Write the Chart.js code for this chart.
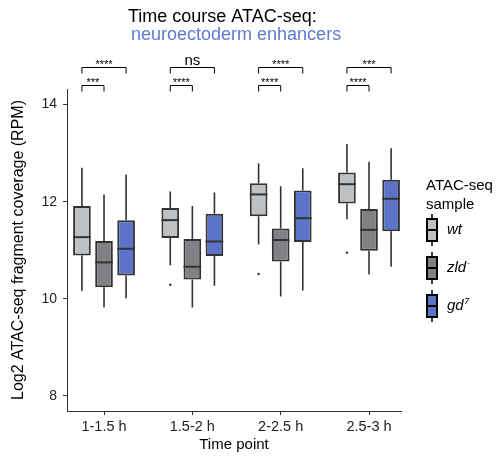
<!DOCTYPE html>
<html>
<head>
<meta charset="utf-8">
<script src="https://cdn.jsdelivr.net/npm/chart.js@4/dist/chart.umd.min.js"></script>
<style>
  html, body { margin: 0; padding: 0; background: #fff; }
  #wrap { width: 497px; height: 456px; position: relative; }
</style>
</head>
<body>
<div id="wrap"><canvas id="grafico"></canvas></div>
<script>
// Boxplot de cobertura ATAC-seq por punto temporal (cajas = barras flotantes)

const timePoints = ['1-1.5 h', '1.5-2 h', '2-2.5 h', '2.5-3 h'];
const yTicks = [8, 10, 12, 14];

// wt
const wtMin = [10.16, 10.69, 11.12, 11.64];
const wtQ1  = [10.89, 11.25, 11.70, 11.96];
const wtMed = [11.27, 11.62, 12.15, 12.36];
const wtQ3  = [11.91, 11.87, 12.38, 12.60];
const wtMax = [12.70, 12.21, 12.79, 13.19];
const wtOut = [null, 10.29, 10.51, 10.95];

// zld-
const zldMin = [9.82, 9.82, 10.05, 10.50];
const zldQ1  = [10.24, 10.40, 10.77, 10.99];
const zldMed = [10.75, 10.66, 11.21, 11.42];
const zldQ3  = [11.19, 11.23, 11.45, 11.85];
const zldMax = [12.15, 11.91, 12.32, 12.82];
const zldOut = [null, null, null, null];

// gd7
const gdMin = [10.01, 10.27, 10.17, 10.66];
const gdQ1  = [10.48, 10.88, 11.17, 11.39];
const gdMed = [11.03, 11.18, 11.66, 12.06];
const gdQ3  = [11.62, 11.75, 12.23, 12.45];
const gdMax = [12.56, 12.19, 12.69, 13.10];
const gdOut = [null, null, null, null];

// significancia: wt vs gd7 (arriba) y wt vs zld- (abajo)
const sigWtGd  = ['****', 'ns', '****', '***'];
const sigWtZld = ['***', '****', '****', '****'];
const bracketTop = 14.78;
const bracketLow = 14.40;

const FONT = "'Liberation Sans', Arial, sans-serif";
const colorWt = '#bec1c4';
const colorZld = '#808184';
const colorGd = '#5b74c9';
const colorLinea = '#333333';

const muestras = [
    { label: 'wt', sup: '', color: colorWt, min: wtMin, q1: wtQ1, med: wtMed, q3: wtQ3, max: wtMax, out: wtOut },
    { label: 'zld', sup: '-', color: colorZld, min: zldMin, q1: zldQ1, med: zldMed, q3: zldQ3, max: zldMax, out: zldOut },
    { label: 'gd', sup: '7', color: colorGd, min: gdMin, q1: gdQ1, med: gdMed, q3: gdQ3, max: gdMax, out: gdOut }
];

// bigotes, medianas, atípicos, corchetes, títulos y leyenda
const boxplotExtras = {
    id: 'boxplotExtras',
    beforeDatasetsDraw(chart) {
        const { ctx, scales: { y } } = chart;
        ctx.save();
        ctx.strokeStyle = colorLinea;
        ctx.lineWidth = 1.6;
        muestras.forEach((m, d) => {
            chart.getDatasetMeta(d).data.forEach((bar, i) => {
                ctx.beginPath();
                ctx.moveTo(bar.x, y.getPixelForValue(m.max[i]));
                ctx.lineTo(bar.x, y.getPixelForValue(m.q3[i]));
                ctx.moveTo(bar.x, y.getPixelForValue(m.q1[i]));
                ctx.lineTo(bar.x, y.getPixelForValue(m.min[i]));
                ctx.stroke();
            });
        });
        ctx.restore();
    },
    afterDatasetsDraw(chart) {
        const { ctx, scales: { y } } = chart;
        ctx.save();
        ctx.strokeStyle = colorLinea;
        ctx.fillStyle = colorLinea;
        ctx.lineWidth = 2;
        muestras.forEach((m, d) => {
            chart.getDatasetMeta(d).data.forEach((bar, i) => {
                const yy = y.getPixelForValue(m.med[i]);
                ctx.beginPath();
                ctx.moveTo(bar.x - bar.width / 2, yy);
                ctx.lineTo(bar.x + bar.width / 2, yy);
                ctx.stroke();
                if (m.out[i] !== null) {
                    ctx.beginPath();
                    ctx.arc(bar.x, y.getPixelForValue(m.out[i]), 1.2, 0, Math.PI * 2);
                    ctx.fill();
                }
            });
        });
        ctx.restore();
    },
    afterDraw(chart) {
        const { ctx, chartArea, scales: { y } } = chart;
        const wt = chart.getDatasetMeta(0).data;
        const zld = chart.getDatasetMeta(1).data;
        const gd = chart.getDatasetMeta(2).data;
        ctx.save();

        // corchetes de comparación
        ctx.strokeStyle = '#000';
        ctx.fillStyle = '#000';
        ctx.lineWidth = 1;
        const corchete = (x1, x2, v, texto) => {
            const yy = Math.round(y.getPixelForValue(v)) + 0.5;
            ctx.beginPath();
            ctx.moveTo(x1, yy + 6);
            ctx.lineTo(x1, yy);
            ctx.lineTo(x2, yy);
            ctx.lineTo(x2, yy + 6);
            ctx.stroke();
            ctx.textAlign = 'center';
            ctx.textBaseline = 'alphabetic';
            if (texto === 'ns') {
                ctx.font = '15px ' + FONT;
                ctx.fillText(texto, (x1 + x2) / 2, yy - 3);
            } else {
                ctx.font = '11px ' + FONT;
                ctx.fillText(texto, (x1 + x2) / 2, yy + 0.5);
            }
        };
        timePoints.forEach((t, i) => {
            corchete(wt[i].x, gd[i].x, bracketTop, sigWtGd[i]);
            corchete(wt[i].x, zld[i].x, bracketLow, sigWtZld[i]);
        });

        // título
        ctx.textAlign = 'left';
        ctx.textBaseline = 'alphabetic';
        ctx.font = '18px ' + FONT;
        ctx.fillStyle = '#000';
        ctx.fillText('Time course ATAC-seq:', 128, 21.5);
        ctx.fillStyle = '#5f79cf';
        ctx.fillText('neuroectoderm enhancers', 131, 39.5);

        // leyenda
        const lx = chartArea.right + 25;
        ctx.fillStyle = '#000';
        ctx.font = '15px ' + FONT;
        ctx.textBaseline = 'middle';
        ctx.fillText('ATAC-seq', lx, 186);
        ctx.fillText('sample', lx, 205);
        muestras.forEach((m, k) => {
            const cy = 230 + k * 38;
            const cx = chartArea.right + 31;
            ctx.strokeStyle = '#000';
            ctx.lineWidth = 1.5;
            ctx.beginPath();
            ctx.moveTo(cx, cy - 16);
            ctx.lineTo(cx, cy + 16);
            ctx.stroke();
            ctx.fillStyle = m.color;
            ctx.fillRect(cx - 5, cy - 11, 10, 22);
            ctx.lineWidth = 2;
            ctx.strokeRect(cx - 5, cy - 11, 10, 22);
            ctx.beginPath();
            ctx.moveTo(cx - 5, cy);
            ctx.lineTo(cx + 5, cy);
            ctx.stroke();
            ctx.fillStyle = '#000';
            ctx.font = 'italic 15px ' + FONT;
            ctx.fillText(m.label, chartArea.right + 46, cy);
            if (m.sup) {
                const w = ctx.measureText(m.label).width;
                ctx.font = 'italic 9px ' + FONT;
                ctx.fillText(m.sup, chartArea.right + 46 + w + 0.5, cy - 5);
            }
        });
        ctx.restore();
    }
};

const ctxGrafico = document.getElementById('grafico').getContext('2d');
new Chart(ctxGrafico, {
    type: 'bar',
    data: {
        datasets: muestras.map(m => ({
            label: m.label + m.sup,
            data: timePoints.map((t, i) => ({ x: i + 1, y: [m.q1[i], m.q3[i]] })),
            backgroundColor: m.color,
            borderColor: colorLinea,
            borderWidth: 2,
            borderSkipped: false,
            categoryPercentage: 0.75,
            barPercentage: 0.8
        }))
    },
    options: {
        responsive: true,
        maintainAspectRatio: false,
        animation: false,
        layout: { padding: { top: 89, right: 96, left: 0, bottom: 0 } },
        plugins: {
            legend: { display: false },
            tooltip: { enabled: false }
        },
        scales: {
            x: {
                type: 'linear',
                offset: false,
                min: 0.581,
                max: 4.362,
                afterBuildTicks: s => { s.ticks = timePoints.map((t, i) => ({ value: i + 1 })); },
                afterFit: s => { s.height = 45; },
                ticks: {
                    color: '#222',
                    font: { family: FONT, size: 14.5 },
                    padding: 3,
                    maxRotation: 0,
                    autoSkip: false,
                    callback: v => timePoints[v - 1]
                },
                grid: { offset: false, drawOnChartArea: false, tickLength: 4, color: colorLinea },
                border: { color: colorLinea, width: 1 },
                title: {
                    display: true,
                    text: 'Time point',
                    color: '#000',
                    font: { family: FONT, size: 15 },
                    padding: { top: 0, bottom: 2 }
                }
            },
            y: {
                min: 7.69,
                max: 14.32,
                afterBuildTicks: s => { s.ticks = yTicks.map(v => ({ value: v })); },
                afterFit: s => { s.width = 67; },
                ticks: {
                    color: '#222',
                    font: { family: FONT, size: 14 },
                    padding: 6
                },
                grid: { drawOnChartArea: false, tickLength: 4, color: colorLinea },
                border: { color: colorLinea, width: 1 },
                title: {
                    display: true,
                    text: 'Log2 ATAC-seq fragment coverage (RPM)',
                    color: '#000',
                    font: { family: FONT, size: 16 },
                    padding: { top: 9, bottom: 0 }
                }
            }
        }
    },
    plugins: [boxplotExtras]
});
</script>
</body>
</html>
